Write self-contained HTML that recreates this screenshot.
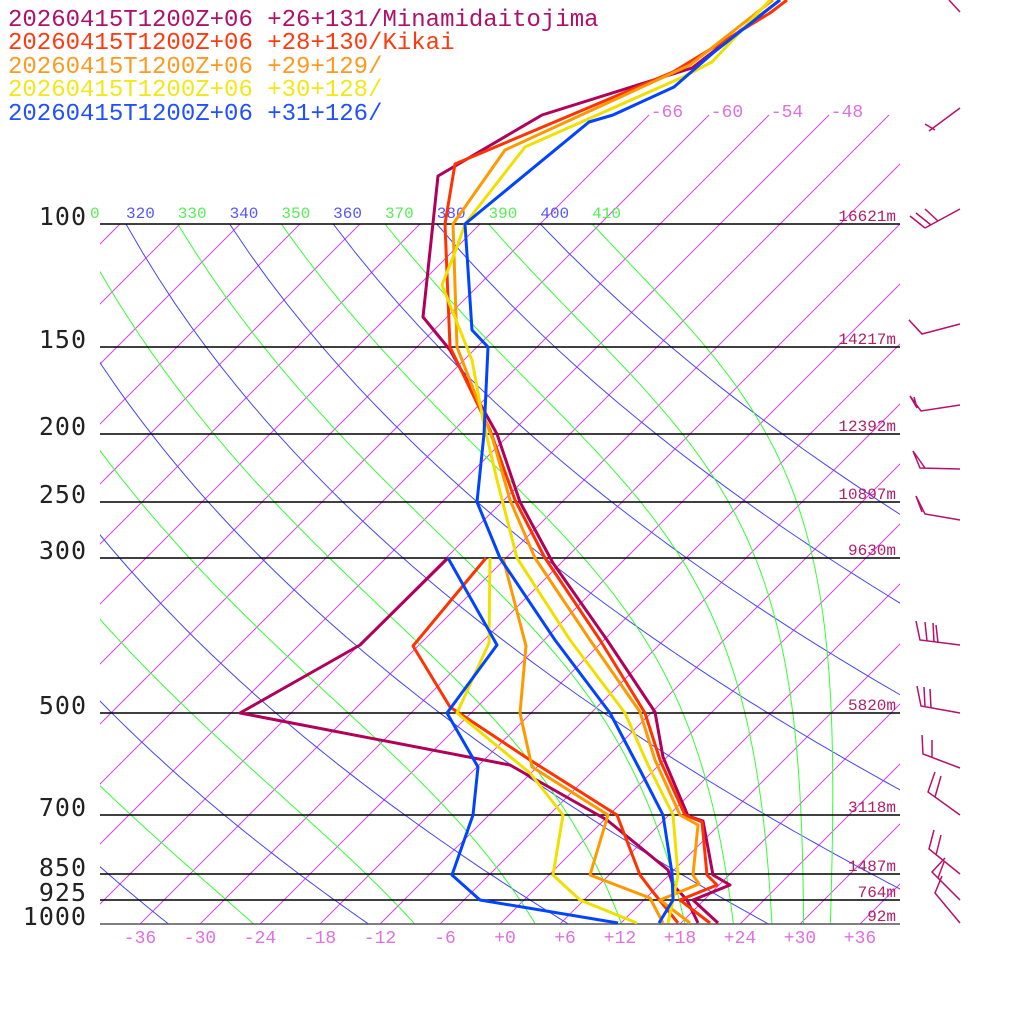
<!DOCTYPE html>
<html><head><meta charset="utf-8"><style>
html,body{margin:0;padding:0;background:#fff;}
svg{display:block;}
.lg{font-family:"Liberation Mono",monospace;font-size:24px;}
.pl{font-family:"DejaVu Sans Mono","Liberation Mono",monospace;font-size:25px;fill:#222;letter-spacing:1px;}
.tl{font-family:"Liberation Mono",monospace;font-size:18px;fill:#e070e0;}
.hl{font-family:"Liberation Mono",monospace;font-size:16px;fill:#b0206a;}
.th{font-family:"Liberation Mono",monospace;font-size:16px;}
</style></head><body>
<svg id="s" width="1024" height="1024" viewBox="0 0 1024 1024" xmlns="http://www.w3.org/2000/svg">
<defs>
<clipPath id="c1"><rect x="100" y="224" width="800" height="700"/></clipPath>
<clipPath id="c2"><rect x="100" y="0" width="800" height="924"/></clipPath>
</defs>
<g id="iso" clip-path="url(#c2)"></g>
<g id="adi" clip-path="url(#c1)"></g>
<g stroke="#000" stroke-width="1.5">
<line x1="100" y1="224" x2="900" y2="224"/><line x1="100" y1="347" x2="900" y2="347"/>
<line x1="100" y1="434" x2="900" y2="434"/><line x1="100" y1="502" x2="900" y2="502"/>
<line x1="100" y1="558" x2="900" y2="558"/><line x1="100" y1="713" x2="900" y2="713"/>
<line x1="100" y1="815" x2="900" y2="815"/><line x1="100" y1="874" x2="900" y2="874"/>
<line x1="100" y1="900" x2="900" y2="900"/><line x1="100" y1="924" x2="900" y2="924" stroke="#555"/>
</g>
<g class="pl" text-anchor="end">
<text x="87" y="225">100</text><text x="87" y="348">150</text><text x="87" y="435">200</text>
<text x="87" y="503">250</text><text x="87" y="559">300</text><text x="87" y="714">500</text>
<text x="87" y="816">700</text><text x="87" y="876">850</text><text x="87" y="901">925</text>
<text x="87" y="925">1000</text>
</g>
<g class="tl" text-anchor="middle">
<text x="140" y="943">-36</text><text x="200" y="943">-30</text><text x="260" y="943">-24</text>
<text x="320" y="943">-18</text><text x="380" y="943">-12</text><text x="445" y="943">-6</text>
<text x="505" y="943">+0</text><text x="565" y="943">+6</text><text x="620" y="943">+12</text>
<text x="680" y="943">+18</text><text x="740" y="943">+24</text><text x="800" y="943">+30</text>
<text x="860" y="943">+36</text>
<text x="667" y="117">-66</text><text x="727" y="117">-60</text><text x="787" y="117">-54</text><text x="847" y="117">-48</text>
</g>
<g class="hl" text-anchor="end">
<text x="896" y="221">16621m</text><text x="896" y="344">14217m</text><text x="896" y="431">12392m</text>
<text x="896" y="499">10897m</text><text x="896" y="555">9630m</text><text x="896" y="710">5820m</text>
<text x="896" y="812">3118m</text><text x="896" y="871">1487m</text><text x="896" y="897">764m</text>
<text x="896" y="921">92m</text>
</g>
<g id="thl" class="th"></g>
<g fill="none" stroke-width="3" stroke-linejoin="round">
<polyline stroke="#b0005a" points="780,0 692,68 542,115 438,176 423,317 450,350 497,434 520,502 553,563 607,640 655,712 663,757 688,816 703,821 713,875 730,885 693,900 718,923"/>
<polyline stroke="#b0005a" points="448,558 360,645 240,713 510,765 607,820 668,870 673,885 687,900 698,923"/>
<polyline stroke="#ff3300" points="787,0 770,13 673,72 455,164 445,224 450,347 490,430 515,500 545,558 600,640 645,713 660,760 685,815 702,822 707,875 717,885 680,900 710,923"/>
<polyline stroke="#ff3300" points="486,558 413,646 450,707 530,760 617,815 640,875 653,892 678,923"/>
<polyline stroke="#ff9900" points="773,0 690,65 505,150 453,224 457,347 493,440 510,500 535,558 590,640 640,712 655,760 680,815 698,825 693,875 699,884 660,900 690,923"/>
<polyline stroke="#ff9900" points="503,558 526,646 520,713 532,767 608,815 590,875 650,898 663,923"/>
<polyline stroke="#f0e000" points="770,0 712,62 683,77 525,147 465,224 457,247 442,285 472,360 483,420 497,480 517,558 570,640 625,713 648,765 673,815 678,875 673,900 668,923"/>
<polyline stroke="#f0e000" points="490,558 489,643 457,713 530,773 563,815 553,875 580,900 637,923"/>
<polyline stroke="#0044ff" points="780,0 713,53 674,87 613,115 589,122 465,224 472,330 488,347 484,434 477,502 500,558 555,640 610,713 640,770 663,815 672,873 673,900 659,923"/>
<polyline stroke="#0044ff" points="448,558 497,645 447,713 478,767 473,815 452,875 480,900 618,923"/>
</g>
<g fill="none" stroke="#b8106a" stroke-width="1.5">
<polyline points="949,0 960,12"/>
<polyline points="960,108 929,131"/><polyline points="925,124 935,130"/>
<polyline points="960,209 925,228"/><polyline points="925,228 910,216"/><polyline points="931,225 916,213"/><polyline points="938,221 925,209"/>
<polyline points="960,324 922,334 909,320 920,332"/>
<polyline points="960,405 921,411 910,396 917,408 914,397"/>
<polyline points="960,469 920,468 913,451 925,468"/>
<polyline points="960,520 925,514 916,496 922,512"/>
<polyline points="960,645 920,640 916,621"/><polyline points="927,641 925,622"/><polyline points="934,642 933,623"/><polyline points="938,643 936,625"/>
<polyline points="960,713 921,706 917,686"/><polyline points="925,707 924,687"/><polyline points="931,708 930,689"/>
<polyline points="960,768 923,754 922,735"/><polyline points="932,758 932,740"/>
<polyline points="960,815 928,792 935,772"/><polyline points="935,797 941,776"/>
<polyline points="960,874 929,849 934,830"/><polyline points="936,855 941,835"/>
<polyline points="960,900 932,872 945,858"/><polyline points="938,878 944,862"/>
<polyline points="960,923 935,893 942,876"/>
</g>
<g class="lg">
<text x="8" y="26" fill="#b0106a">20260415T1200Z+06 +26+131/Minamidaitojima</text>
<text x="8" y="49" fill="#ff3a10">20260415T1200Z+06 +28+130/Kikai</text>
<text x="8" y="73" fill="#ff9a20">20260415T1200Z+06 +29+129/</text>
<text x="8" y="96" fill="#f0e818">20260415T1200Z+06 +30+128/</text>
<text x="8" y="120" fill="#2050ff">20260415T1200Z+06 +31+126/</text>
</g>
</svg>
<script>
(function(){
var NS="http://www.w3.org/2000/svg";
function Y(p){return 924-304*Math.log(1000/p);}
function X(T,y){return 500+10*T+(924-y);}
var iso=document.getElementById('iso'),adi=document.getElementById('adi'),thl=document.getElementById('thl');
function line(g,x1,y1,x2,y2,c){var l=document.createElementNS(NS,'line');l.setAttribute('x1',x1);l.setAttribute('y1',y1);l.setAttribute('x2',x2);l.setAttribute('y2',y2);l.setAttribute('stroke',c);l.setAttribute('stroke-width','1');g.appendChild(l);}
for(var T=-150;T<=42;T+=6){var yt=T>=-66?115:224;line(iso,X(T,924),924,X(T,yt),yt,'#dd44ee');}
function path(g,pts,c){var d='';for(var i=0;i<pts.length;i++)d+=(i?'L':'M')+pts[i][0].toFixed(1)+','+pts[i][1].toFixed(1);var p=document.createElementNS(NS,'path');p.setAttribute('d',d);p.setAttribute('fill','none');p.setAttribute('stroke',c);p.setAttribute('stroke-width','1');g.appendChild(p);}
for(var th=200;th<=400;th+=20){var pts=[];for(var p=100;p<=1000;p+=10){var Tk=th*Math.pow(p/1000,0.2857);var y=Y(p);pts.push([X(Tk-273.15,y),y]);}path(adi,pts,'#4444ff');}
var Rd=287.04,cp=1005.7,Lv=2.501e6,eps=0.622;
function rs(T,p){var Tc=T-273.15;var es=6.112*Math.exp(17.67*Tc/(Tc+243.5));return eps*es/(p-es);}
function dTdp(T,p){var r=rs(T,p);return (Rd*T+Lv*r)/(p*(cp+Lv*Lv*r*eps/(Rd*T*T)));}
for(var th=210;th<=410;th+=20){var T=th*Math.pow(0.1,0.2857),p=100,pts=[[X(T-273.15,Y(100)),Y(100)]];var h=2;
 while(p<1000){var k1=dTdp(T,p),k2=dTdp(T+h/2*k1,p+h/2),k3=dTdp(T+h/2*k2,p+h/2),k4=dTdp(T+h*k3,p+h);T+=h/6*(k1+2*k2+2*k3+k4);p+=h;var y=Y(p);pts.push([X(T-273.15,y),y]);}
 path(adi,pts,'#33ff33');}
for(var th=310;th<=410;th+=10){var x=X(th*Math.pow(0.1,0.2857)-273.15,224);var t=document.createElementNS(NS,'text');t.setAttribute('x',x);t.setAttribute('y',218);t.setAttribute('fill',(th/10)%2==0?'#5555ff':'#55ee55');t.textContent=th;if(x<100){t.setAttribute('x',90);t.textContent='0';}thl.appendChild(t);}
})();
</script>
</body></html>
